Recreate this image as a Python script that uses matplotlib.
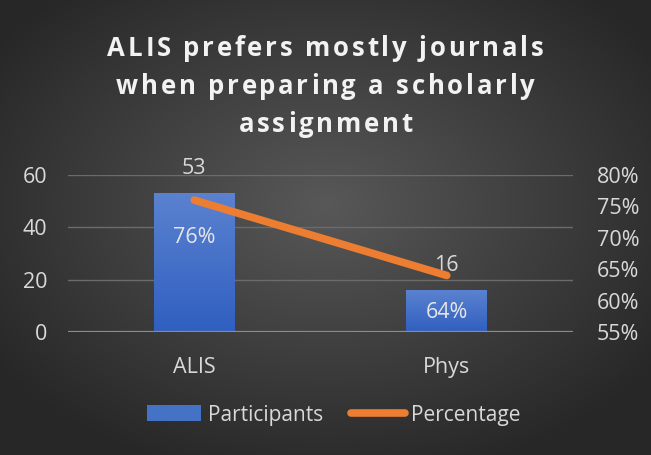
import numpy as np
import matplotlib
matplotlib.use("Agg")
import matplotlib.pyplot as plt
from matplotlib.lines import Line2D
from matplotlib.patches import Patch
from matplotlib.font_manager import FontProperties

categories = ["ALIS", "Phys"]
participants = [53, 16]
percentage = [76, 64]
left_ticks = [0, 20, 40, 60]
right_ticks = [55, 60, 65, 70, 75, 80]
title_lines = ["ALIS prefers mostly journals", "when preparing a scholarly", "assignment"]

W, H = 651, 455
fig = plt.figure(figsize=(W / 100, H / 100), dpi=100)
FONT = "Open Sans"
TXT = "#d9d9d9"
FS = 15.5

# background radial gradient
bg = fig.add_axes([0, 0, 1, 1])
yy, xx = np.mgrid[0:H, 0:W]
cx, cy = W * 0.5, H * 0.45
r = np.sqrt(((xx - cx) / (W * 0.62)) ** 2 + ((yy - cy) / (H * 0.62)) ** 2)
r = np.clip(r, 0, 1)
c0, c1 = 0x58 / 255, 0x27 / 255
val = c0 + (c1 - c0) * r
img = np.dstack([val, val, val])
bg.imshow(img, aspect="auto", extent=[0, 1, 0, 1])
bg.axis("off")

left = 68 / W
right = 573 / W
top = 1 - 175 / H
bottom = 1 - 332 / H
ax = fig.add_axes([left, bottom, right - left, top - bottom])
ax.patch.set_alpha(0)
ax2 = ax.twinx()
ax2.patch.set_alpha(0)

x = np.arange(len(categories))
bars = ax.bar(x, participants, width=0.32, color="#4472c4", zorder=2)
for b in bars:
    bx, by = b.get_x(), b.get_y()
    bw, bh = b.get_width(), b.get_height()
    grad = np.linspace(0, 1, 100)
    cols = np.zeros((100, 1, 3))
    top_c = np.array([0x5b, 0x82, 0xd0]) / 255
    bot_c = np.array([0x2f, 0x5f, 0xc0]) / 255
    for i in range(3):
        cols[:, 0, i] = bot_c[i] + (top_c[i] - bot_c[i]) * grad
    ax.imshow(cols, extent=[bx, bx + bw, by, by + bh], origin="lower",
              aspect="auto", zorder=2)
    b.set_visible(False)

ax.set_xlim(-0.5, len(categories) - 0.5)
ax.set_ylim(0, 60)
ax2.set_ylim(55, 80)
ax.set_yticks(left_ticks)
ax2.set_yticks(right_ticks)
ax2.set_yticklabels([f"{t}%" for t in right_ticks])
ax.set_xticks(x)
ax.set_xticklabels(categories)

for a in (ax, ax2):
    for s in a.spines.values():
        s.set_visible(False)
    a.tick_params(length=0, colors=TXT, labelsize=FS)
    for lab in a.get_xticklabels() + a.get_yticklabels():
        lab.set_fontfamily(FONT)
ax.tick_params(axis="y", pad=15)
ax2.tick_params(axis="y", pad=17)
ax.tick_params(axis="x", pad=18)

ax.grid(axis="y", color="#6b6b6b", linewidth=1, zorder=0)
ax.set_axisbelow(True)
ax.axhline(0, color="#8c8c8c", linewidth=1.6, zorder=3)

ax2.plot(x, percentage, color="#ed7d31", linewidth=5.5, solid_capstyle="round", zorder=4)

for xi, v in zip(x, participants):
    ax.annotate(f"{v}", (xi, v), xytext=(0, 18), textcoords="offset points",
                ha="center", va="center", color=TXT, fontsize=FS, fontfamily=FONT, zorder=5)
for xi, p in zip(x, percentage):
    ax2.annotate(f"{p}%", (xi, p), xytext=(0, -27), textcoords="offset points",
                 ha="center", va="center", color="#e6e6e6", fontsize=FS, fontfamily=FONT, zorder=5)

# letter-spaced title
renderer = fig.canvas.get_renderer()
tprop = FontProperties(family=FONT, weight="bold", size=18.5)
tracking = 2.8  # px
baselines = [56, 94, 132]


def wpx(s):
    w, h, d = renderer.get_text_width_height_descent(s, tprop, ismath=False)
    return w


for line, base in zip(title_lines, baselines):
    ref_w = wpx("I")
    xs = [0.0]
    for k in range(1, len(line)):
        xs.append(wpx(line[:k] + "I") - ref_w)
    total = wpx(line) + tracking * (len(line) - 1)
    x0 = W / 2 - total / 2
    for k, ch in enumerate(line):
        if ch == " ":
            continue
        px = x0 + xs[k] + tracking * k
        fig.text(px / W, 1 - base / H, ch, ha="left", va="baseline", color="#f2f2f2",
                 fontproperties=tprop)

handles = [Patch(facecolor="#4472c4", edgecolor="none"),
           Line2D([0], [0], color="#ed7d31", linewidth=5.5, solid_capstyle="round")]
leg = fig.legend(handles, ["Participants", "Percentage"], loc="center",
                 bbox_to_anchor=(0.513, 1 - 415 / H), ncol=2, frameon=False,
                 prop={"family": FONT, "size": 15}, labelcolor=TXT,
                 handlelength=2.6, handleheight=0.8, handletextpad=0.3, columnspacing=1.35)

fig.savefig("out.png", dpi=100)
